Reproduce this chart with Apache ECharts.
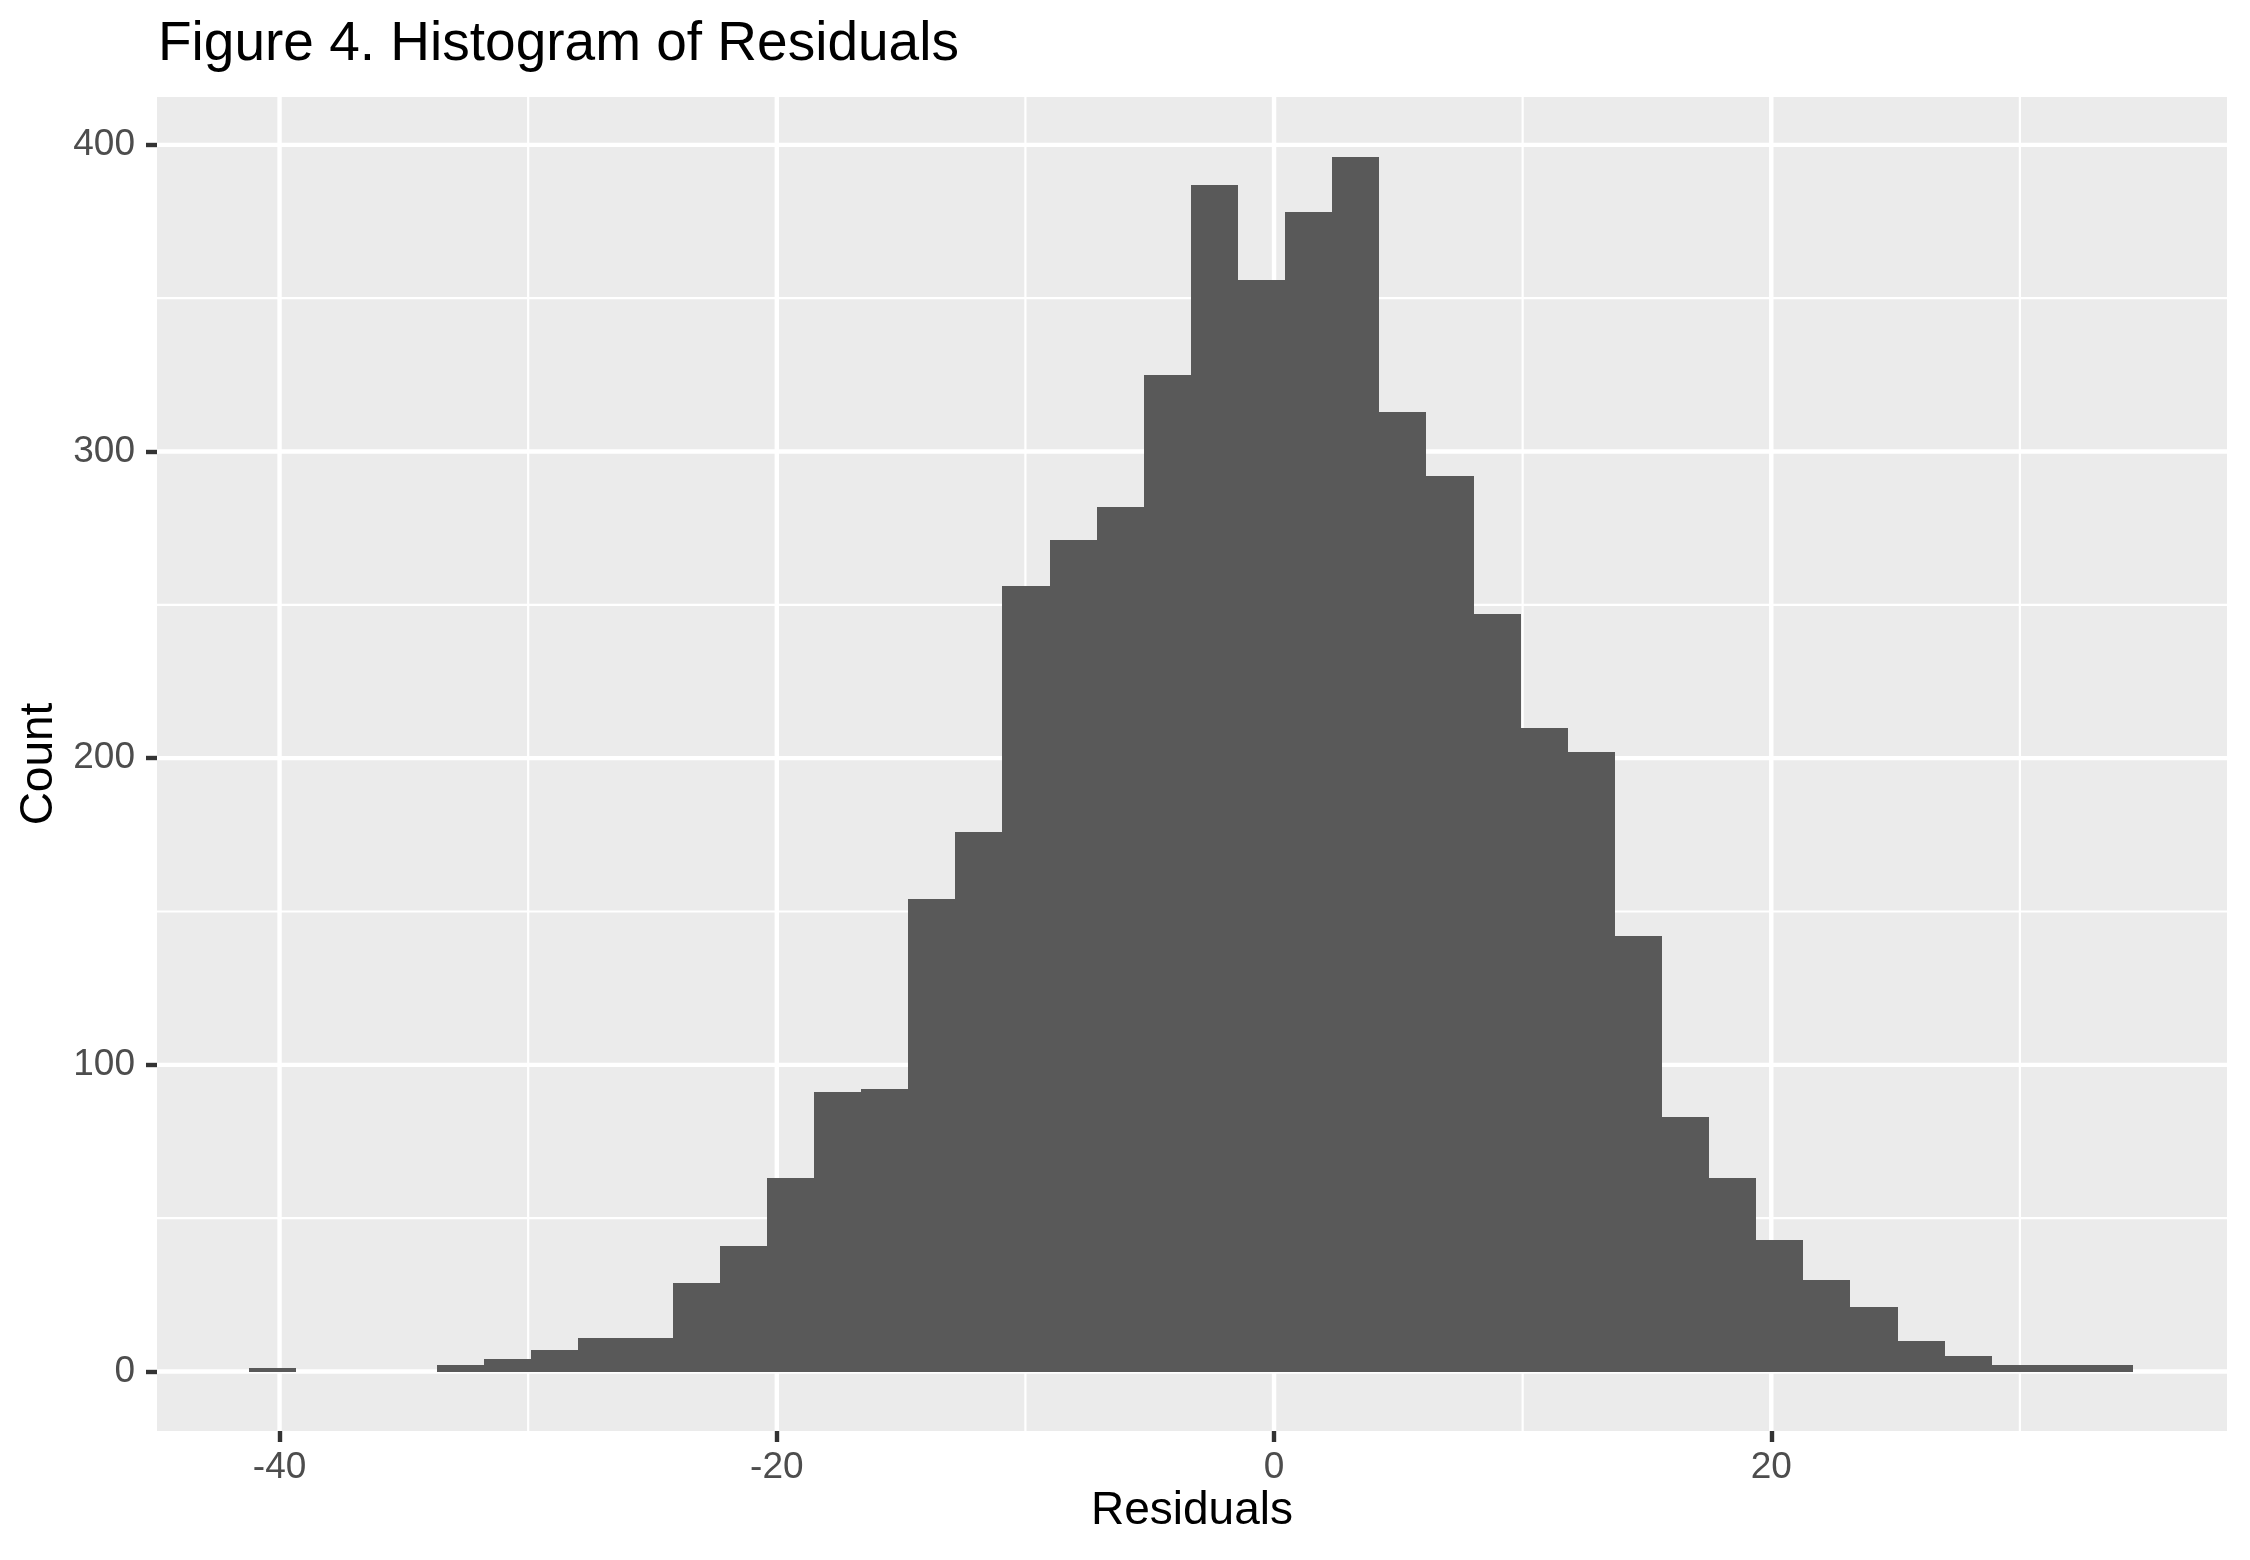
<!DOCTYPE html>
<html>
<head>
<meta charset="utf-8">
<script src="https://cdn.jsdelivr.net/npm/echarts@6/dist/echarts.min.js"></script>
<style>
  html, body { margin: 0; padding: 0; background: #ffffff; }
  #chart { width: 2250px; height: 1560px; }
</style>
</head>
<body>
<div id="chart"></div>
<script>
// ---- data ----
const binStart = -41.245;   // left edge of first bin
const binWidth = 1.895;     // width of each bin
const counts = [1, 0, 0, 0, 2, 4, 7, 11, 11, 29,
                41, 63, 91, 92, 154, 176, 256, 271, 282, 325,
                387, 356, 378, 396, 313, 292, 247, 210, 202, 142,
                83, 63, 43, 30, 21, 10, 5, 2, 2, 2];
const xTickLabels = [-40, -20, 0, 20];
const xMinorBreaks = [-30, -10, 10, 30];
const yTickLabels = [0, 100, 200, 300, 400];
const yMinorBreaks = [50, 150, 250, 350];
const xRange = [-44.93, 38.33];
const yRange = [-19.4, 415.6];

const titleText = 'Figure 4. Histogram of Residuals';
const xTitle = 'Residuals';
const yTitle = 'Count';

// ---- build series data ----
const histData = counts.map((c, i) => [binStart + i * binWidth, binStart + (i + 1) * binWidth, c]);
const gridData = [];
xTickLabels.forEach(v => gridData.push([v, 0, 1]));
xMinorBreaks.forEach(v => gridData.push([v, 0, 0]));
yTickLabels.forEach(v => gridData.push([v, 1, 1]));
yMinorBreaks.forEach(v => gridData.push([v, 1, 0]));

const FONT = "'Liberation Sans', Arial, sans-serif";

const chart = echarts.init(document.getElementById('chart'), null, { renderer: 'canvas' });
chart.setOption({
  animation: false,
  backgroundColor: '#ffffff',
  title: {
    text: titleText,
    left: 153,
    top: 12,
    textStyle: { fontFamily: FONT, fontSize: 55, fontWeight: 'normal', color: '#000000' }
  },
  grid: {
    left: 157, right: 23, top: 97, bottom: 129,
    show: true, backgroundColor: '#EBEBEB', borderWidth: 0
  },
  xAxis: {
    type: 'value',
    min: xRange[0], max: xRange[1],
    name: xTitle,
    nameLocation: 'middle',
    nameGap: 57,
    nameMoveOverlap: false,
    nameTextStyle: { fontFamily: FONT, fontSize: 46, color: '#000000' },
    axisLine: { show: false, onZero: false },
    axisTick: { show: true, length: 11, customValues: xTickLabels, lineStyle: { color: '#333333', width: 4.4 } },
    axisLabel: { show: true, customValues: xTickLabels, margin: 18, fontFamily: FONT, fontSize: 37, color: '#4D4D4D' },
    splitLine: { show: false }
  },
  yAxis: {
    type: 'value',
    min: yRange[0], max: yRange[1],
    name: yTitle,
    nameLocation: 'middle',
    nameGap: 95,
    nameRotate: 90,
    nameMoveOverlap: false,
    nameTextStyle: { fontFamily: FONT, fontSize: 46, color: '#000000' },
    axisLine: { show: false, onZero: false },
    axisTick: { show: true, length: 11, customValues: yTickLabels, lineStyle: { color: '#333333', width: 4.4 } },
    axisLabel: { show: true, customValues: yTickLabels, margin: 22, fontFamily: FONT, fontSize: 37, color: '#4D4D4D' },
    splitLine: { show: false }
  },
  series: [
    {
      type: 'custom',
      name: 'grid',
      silent: true,
      z: 1,
      data: gridData,
      encode: { x: 0, y: 0 },
      renderItem: function (params, api) {
        const v = api.value(0);
        const orient = api.value(1);
        const major = api.value(2);
        const cs = params.coordSys;
        const w = major ? 4.4 : 2.2;
        if (orient === 0) {
          const x = api.coord([v, 0])[0];
          return { type: 'line', shape: { x1: x, y1: cs.y, x2: x, y2: cs.y + cs.height },
                   style: { stroke: '#ffffff', lineWidth: w } };
        } else {
          const y = api.coord([0, v])[1];
          return { type: 'line', shape: { x1: cs.x, y1: y, x2: cs.x + cs.width, y2: y },
                   style: { stroke: '#ffffff', lineWidth: w } };
        }
      }
    },
    {
      type: 'custom',
      name: 'Count',
      z: 2,
      data: histData,
      encode: { x: [0, 1], y: 2 },
      renderItem: function (params, api) {
        const p0 = api.coord([api.value(0), api.value(2)]);
        const p1 = api.coord([api.value(1), 0]);
        const x0 = Math.round(p0[0]), x1 = Math.round(p1[0]);
        const y0 = Math.round(p0[1]), y1 = Math.round(p1[1]);
        return {
          type: 'rect',
          shape: { x: x0, y: y0, width: x1 - x0, height: y1 - y0 },
          style: { fill: '#595959' }
        };
      }
    }
  ]
});
</script>
</body>
</html>
